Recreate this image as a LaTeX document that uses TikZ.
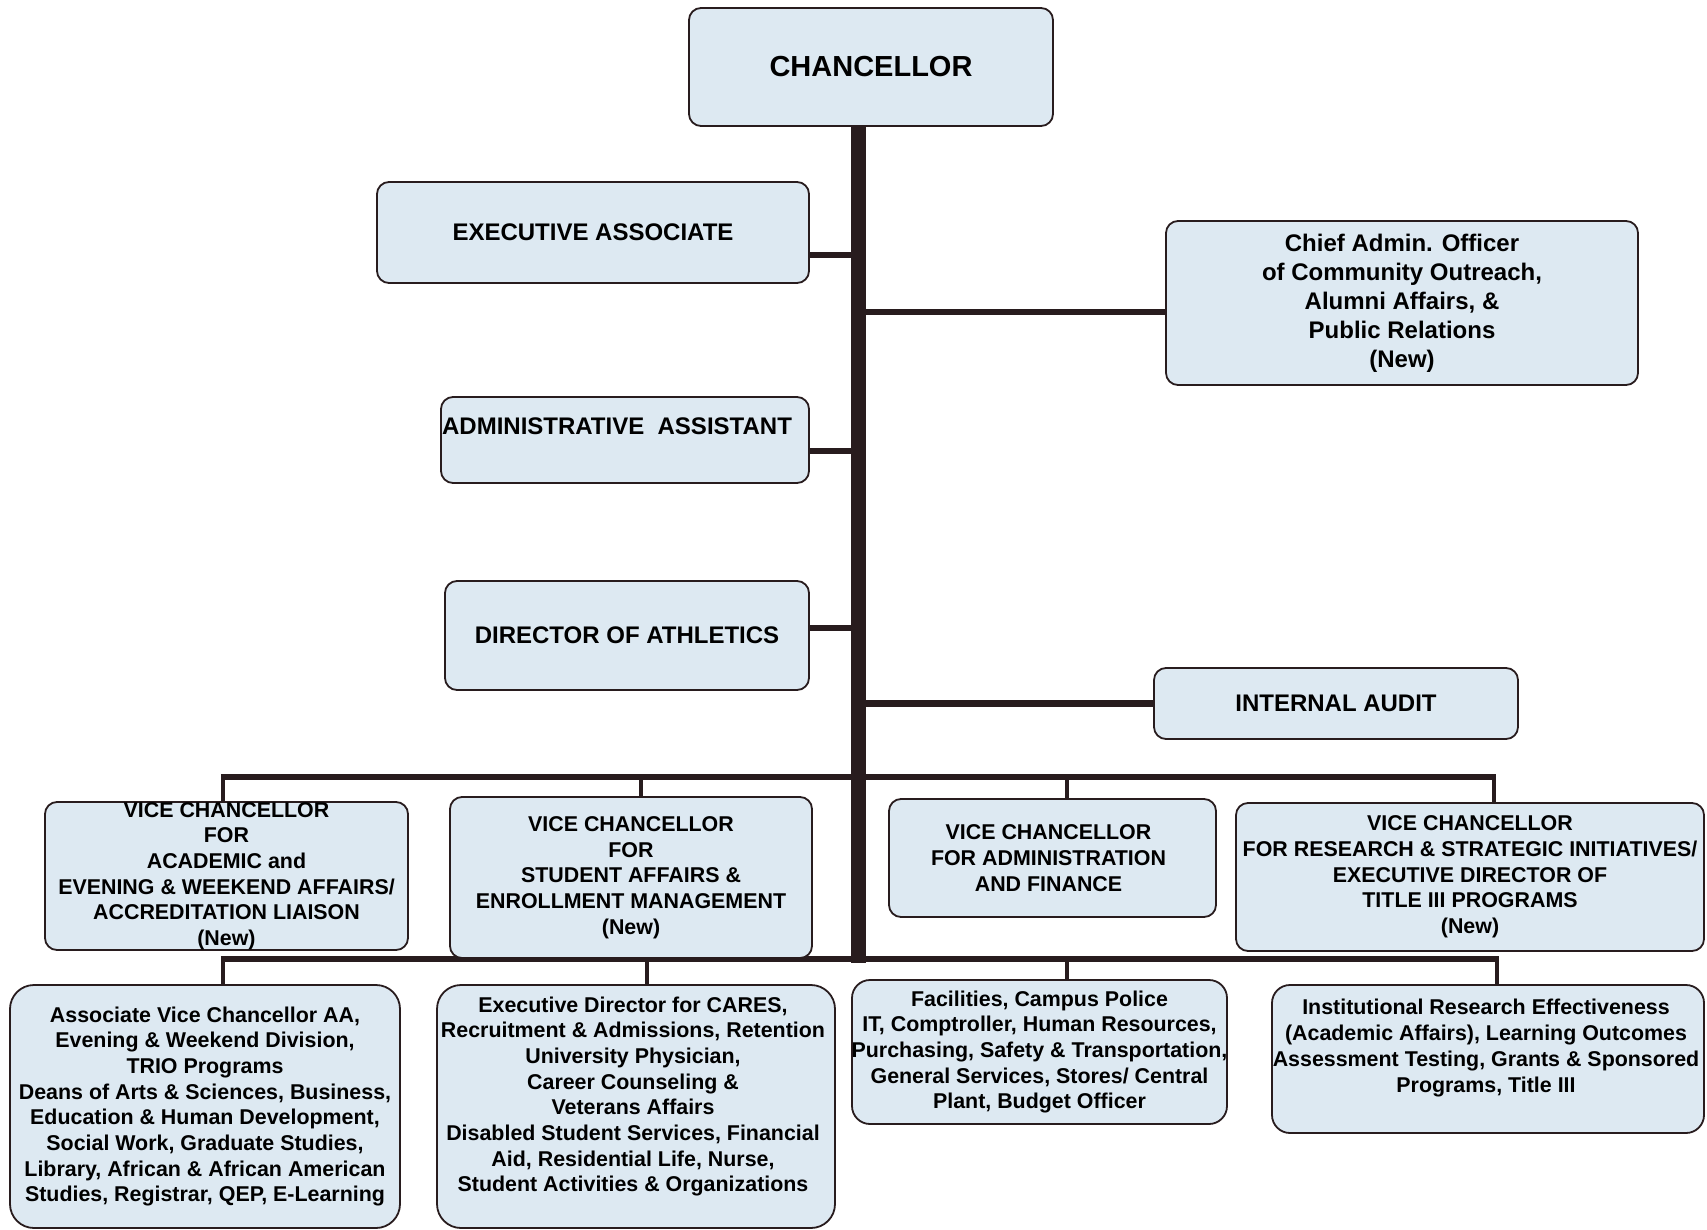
\documentclass[tikz,border=0pt]{standalone}
\usepackage{fontspec}
\setmainfont{Liberation Sans}
\usetikzlibrary{calc}
\definecolor{boxfill}{RGB}{221,233,242}
\definecolor{ink}{RGB}{40,28,30}
\pgfdeclarelayer{back}
\pgfdeclarelayer{bg}
\pgfsetlayers{back,bg,main}
\begin{document}
\begin{tikzpicture}[x=1pt,y=-1pt,
  box/.style={draw=ink,line width=1.8pt,fill=boxfill,rounded corners=12pt,inner sep=0pt,outer sep=0pt},
  tbig/.style={font=\fontsize{29}{34}\selectfont\bfseries,text=black},
  tmid/.style={font=\fontsize{24}{28.9}\selectfont\bfseries,align=center,text=black},
  tsm/.style={font=\fontsize{21.4}{25.7}\selectfont\bfseries,align=center,text=black},
  trunkline/.style={draw=ink,line width=15pt},
  sideline/.style={draw=ink,line width=6.5pt},
  busline/.style={draw=ink,line width=6.5pt},
  dropline/.style={draw=ink,line width=4.5pt}]
\begin{pgfonlayer}{back}
\path[use as bounding box,fill=white] (0,0) rectangle (1707,1230);
\end{pgfonlayer}

% top level
\node[box,minimum width=364pt,minimum height=118pt,label={[tbig]center:CHANCELLOR}] (chan) at (871,67) {};
\node[box,minimum width=432pt,minimum height=101pt,label={[tmid]center:EXECUTIVE ASSOCIATE}] (ea) at (593,232.5) {};
\node[box,minimum width=472pt,minimum height=164pt,label={[tmid]center:{Chief Admin. Officer\\of Community Outreach,\\Alumni Affairs, \&\\Public Relations\\(New)}}] (cao) at (1402,303) {};
\node[box,minimum width=368pt,minimum height=86pt,label={[tmid,xshift=-8pt,yshift=14pt]center:{ADMINISTRATIVE\ \ ASSISTANT}}] (aa) at (625,440) {};
\node[box,minimum width=364pt,minimum height=109pt,label={[tmid]center:DIRECTOR OF ATHLETICS}] (doa) at (627,635.5) {};
\node[box,minimum width=364pt,minimum height=71pt,label={[tmid]center:INTERNAL AUDIT}] (ia) at (1336,703.5) {};

% vice chancellors
\node[box,minimum width=363pt,minimum height=148pt,label={[tsm]center:{VICE CHANCELLOR\\FOR\\ACADEMIC and\\EVENING \& WEEKEND AFFAIRS/\\ACCREDITATION LIAISON\\(New)}}] (vc1) at (226.5,876) {};
\node[box,minimum width=362pt,minimum height=161pt,label={[tsm]center:{VICE CHANCELLOR\\FOR\\STUDENT AFFAIRS \&\\ENROLLMENT MANAGEMENT\\(New)}}] (vc2) at (631,877.5) {};
\node[box,minimum width=327pt,minimum height=118pt,label={[tsm,xshift=-4pt]center:{VICE CHANCELLOR\\FOR ADMINISTRATION\\AND FINANCE}}] (vc3) at (1052.5,858) {};
\node[box,minimum width=468pt,minimum height=148pt,label={[tsm]center:{VICE CHANCELLOR\\FOR RESEARCH \& STRATEGIC INITIATIVES/\\EXECUTIVE DIRECTOR OF\\TITLE III PROGRAMS\\(New)}}] (vc4) at (1470,877) {};

% units
\node[box,rounded corners=24pt,minimum width=390pt,minimum height=243pt,label={[tsm]center:{Associate Vice Chancellor AA,\\Evening \& Weekend Division,\\TRIO Programs\\Deans of Arts \& Sciences, Business,\\Education \& Human Development,\\Social Work, Graduate Studies,\\Library, African \& African American\\Studies, Registrar, QEP, E-Learning}}] (b1) at (205,1106.5) {};
\node[box,rounded corners=24pt,minimum width=398pt,minimum height=243pt,label={[tsm,xshift=-3pt,yshift=10pt]center:{Executive Director for CARES,\\Recruitment \& Admissions, Retention\\University Physician,\\Career Counseling \&\\Veterans Affairs\\Disabled Student Services, Financial\\Aid, Residential Life, Nurse,\\Student Activities \& Organizations}}] (b2) at (636,1106.5) {};
\node[box,rounded corners=18pt,minimum width=375pt,minimum height=144pt,label={[tsm]center:{Facilities, Campus Police\\IT, Comptroller, Human Resources,\\Purchasing, Safety \& Transportation,\\General Services, Stores/ Central\\Plant, Budget Officer}}] (b3) at (1039.5,1052) {};
\node[box,rounded corners=18pt,minimum width=432pt,minimum height=148pt,label={[tsm,xshift=-2pt,yshift=11pt]center:{Institutional Research Effectiveness\\(Academic Affairs), Learning Outcomes\\Assessment Testing, Grants \& Sponsored\\Programs, Title III}}] (b4) at (1488,1059) {};

% connector coordinates
\coordinate (tt) at ($(chan.south)+(-13,0)$);
\coordinate (tb) at (858,962.5);
\coordinate (eaC) at ($(ea.east)+(0,22.5)$);
\coordinate (caoC) at ($(cao.west)+(0,9)$);
\coordinate (aaC) at ($(aa.east)+(0,11)$);
\coordinate (doaC) at ($(doa.east)+(0,-7.5)$);
\coordinate (iaC) at (ia.west);
\coordinate (u1) at (223,777);
\coordinate (u2) at (641,777);
\coordinate (u3) at (1067,777);
\coordinate (u4) at (1494,777);
\coordinate (l1) at (223,959);
\coordinate (l2) at (647,959);
\coordinate (l3) at (1067,959);
\coordinate (l4) at (1497,959);

\begin{pgfonlayer}{bg}
\draw[trunkline] (tt) -- (tb);
\draw[sideline] (eaC) -- (eaC -| tt);
\draw[sideline] (caoC) -- (caoC -| tt);
\draw[sideline] (aaC) -- (aaC -| tt);
\draw[sideline] (doaC) -- (doaC -| tt);
\draw[sideline] (iaC) -- (iaC -| tt);
\draw[busline] ($(u1)+(-2.25,0)$) -- ($(u4)+(2.25,0)$);
\draw[busline] ($(l1)+(-2.25,0)$) -- ($(l4)+(2.25,0)$);
\draw[dropline] (u1) -- (u1 |- vc1.north);
\draw[dropline] (u2) -- (u2 |- vc2.north);
\draw[dropline] (u3) -- (u3 |- vc3.north);
\draw[dropline] (u4) -- (u4 |- vc4.north);
\draw[dropline] (l1) -- (l1 |- b1.north);
\draw[dropline] (l2) -- (l2 |- b2.north);
\draw[dropline] (l3) -- (l3 |- b3.north);
\draw[dropline] (l4) -- (l4 |- b4.north);
\end{pgfonlayer}
\end{tikzpicture}
\end{document}
